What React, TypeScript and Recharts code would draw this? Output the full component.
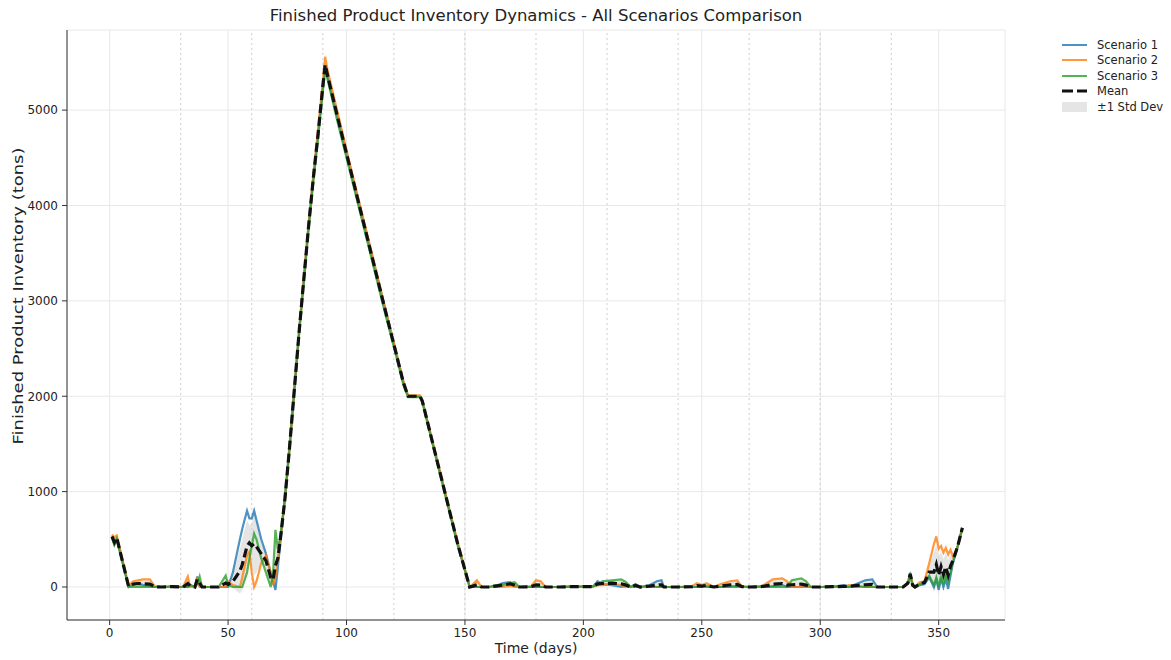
import React from "react";
import {
  ComposedChart,
  Line,
  Area,
  XAxis,
  YAxis,
  CartesianGrid,
  ReferenceLine,
} from "recharts";

const days = [
  1, 2, 3, 8, 10, 12, 14, 17, 19, 22,
  26, 31, 33, 34, 36, 37, 38, 39, 42, 46,
  49, 50, 52, 55, 56, 58, 59, 60, 61, 62,
  64, 66, 68, 69, 70, 71, 72, 74, 76, 78,
  80, 82, 84, 86, 88, 90, 91, 92, 96, 101,
  106, 111, 116, 121, 124, 126, 131, 132, 137, 142,
  147, 152, 153, 155, 157, 160, 163, 166, 169, 171,
  173, 178, 180, 182, 184, 190, 195, 200, 204, 206,
  208, 212, 216, 218, 220, 222, 224, 228, 231, 233,
  234, 240, 246, 248, 250, 252, 255, 258, 262, 265,
  267, 270, 275, 278, 280, 284, 286, 288, 292, 294,
  296, 300, 305, 310, 312, 316, 319, 322, 324, 330,
  335, 337, 338, 339, 340, 342, 344, 346, 348, 349,
  350, 351, 352, 353, 354, 355, 356, 358, 360,
];

const scenario1 = [
  520, 450, 510, 0, 30, 40, 20, 10, 0, 0,
  10, 0, 0, 20, 0, 110, 10, 0, 0, 0,
  0, 0, 150, 500, 610, 800, 720, 720, 800, 700,
  500, 350, 150, 60, -30, 200, 450, 950, 1500, 2100,
  2700, 3250, 3800, 4300, 4750, 5250, 5450, 5350, 4950, 4450,
  3950, 3450, 2950, 2450, 2150, 2000, 2000, 1950, 1450, 950,
  450, 0, 0, 0, 0, 0, 10, 40, 50, 10,
  0, 0, 0, 0, 0, 0, 10, 0, 0, 60,
  30, 20, 0, 10, 0, 30, 0, 20, 60, 70,
  0, 0, 0, 0, 10, 0, 0, 0, 0, 10,
  0, 0, 0, 0, 10, 20, 0, 0, 0, 0,
  0, 0, 0, 20, 0, 40, 70, 80, 0, 0,
  0, 50, 150, 20, 0, 20, 30, 100, 0, 80,
  -30, 90, 0, 80, -20, 120, 250, 420, 620,
];

const scenario2 = [
  550, 520, 540, 20, 60, 70, 80, 80, 10, 0,
  0, 0, 110, 0, 0, 100, 0, 0, 0, 0,
  0, 60, 20, 0, 100, 330, 370, 150, 0, 60,
  250, 330, 150, 20, 100, 300, 480, 900, 1480, 2080,
  2680, 3250, 3800, 4320, 4800, 5300, 5560, 5420, 5000, 4480,
  3970, 3470, 2960, 2460, 2160, 2010, 2010, 1960, 1460, 960,
  460, 0, 20, 70, 0, 0, 0, 0, 10, 0,
  0, 10, 70, 60, 0, 0, 0, 0, 0, 20,
  20, 30, 20, 0, 0, 0, 0, 0, 0, 0,
  0, 0, 10, 40, 20, 40, 0, 30, 60, 70,
  0, 0, 0, 50, 80, 90, 60, 0, 0, 0,
  0, 0, 0, 0, 20, 0, 0, 0, 0, 0,
  0, 30, 140, 30, 0, 50, 60, 250, 450, 530,
  400, 430, 360, 410, 340, 390, 320, 420, 620,
];

const scenario3 = [
  520, 440, 500, 0, 0, 0, 0, 0, 0, 0,
  0, 0, 0, 20, 0, 30, 110, 0, 0, 0,
  120, 20, 0, 0, 0, 150, 300, 430, 560, 500,
  300, 150, 0, 150, 600, 400, 520, 920, 1450, 2050,
  2650, 3200, 3750, 4250, 4700, 5200, 5420, 5320, 4900, 4400,
  3900, 3400, 2900, 2420, 2120, 1990, 1990, 1940, 1430, 930,
  430, 0, 0, 0, 0, 0, 20, 20, 40, 50,
  0, 0, 0, 0, 0, 0, 0, 10, 10, 20,
  60, 70, 80, 50, 0, 20, 0, 10, 0, 0,
  0, 0, 0, 0, 0, 10, 0, 0, 10, 0,
  10, 0, 10, 0, 0, 0, 0, 70, 90, 60,
  0, 0, 10, 0, 0, 10, 0, 0, 0, 0,
  0, 40, 120, 10, 0, 30, 50, 120, 20, 100,
  0, 120, 30, 140, 50, 150, 260, 430, 620,
];

const xTicks = [0, 50, 100, 150, 200, 250, 300, 350];
const yTicks = [0, 1000, 2000, 3000, 4000, 5000];
const monthLines = [30, 60, 90, 120, 150, 180, 210, 240, 270, 300, 330];

const seriesNames = ["Scenario 1", "Scenario 2", "Scenario 3"];
const seriesColors = ["#1f77b4", "#ff7f0e", "#2ca02c"];

const data = days.map((d, i) => {
  const vals = [scenario1[i], scenario2[i], scenario3[i]];
  const mean = (vals[0] + vals[1] + vals[2]) / 3;
  const variance =
    vals.reduce((acc, v) => acc + (v - mean) * (v - mean), 0) / vals.length;
  const sd = Math.sqrt(variance);
  return {
    day: d,
    s1: vals[0],
    s2: vals[1],
    s3: vals[2],
    mean,
    band: [mean - sd, mean + sd],
  };
});

const FONT = "'DejaVu Sans', sans-serif";

function LegendBox() {
  const rowStyle: React.CSSProperties = {
    display: "flex",
    alignItems: "center",
    height: 15.5,
  };
  const textStyle: React.CSSProperties = {
    fontFamily: FONT,
    fontSize: 11.5,
    color: "#222",
    marginLeft: 10,
    whiteSpace: "nowrap",
  };
  return (
    <div style={{ position: "absolute", left: 1062, top: 37 }}>
      {seriesNames.map((n, i) => (
        <div key={n} style={rowStyle}>
          <svg width={25} height={10}>
            <line x1={0} y1={5} x2={25} y2={5} stroke={seriesColors[i]} strokeOpacity={0.8} strokeWidth={2} />
          </svg>
          <span style={textStyle}>{n}</span>
        </div>
      ))}
      <div style={rowStyle}>
        <svg width={25} height={10}>
          <line x1={0} y1={5} x2={25} y2={5} stroke="#111" strokeWidth={3.2} strokeDasharray="11 4" />
        </svg>
        <span style={textStyle}>Mean</span>
      </div>
      <div style={rowStyle}>
        <svg width={25} height={10}>
          <rect x={0} y={0} width={25} height={10} fill="#999" fillOpacity={0.25} />
        </svg>
        <span style={textStyle}>±1 Std Dev</span>
      </div>
    </div>
  );
}

export default function App() {
  return (
    <div
      style={{
        position: "absolute",
        left: 0,
        top: 0,
        width: 1171,
        height: 660,
        background: "#fff",
        fontFamily: FONT,
      }}
    >
      <div
        style={{
          position: "absolute",
          left: 67,
          width: 938,
          top: 6,
          textAlign: "center",
          fontSize: 16.5,
          color: "#222",
          fontFamily: FONT,
        }}
      >
        Finished Product Inventory Dynamics - All Scenarios Comparison
      </div>
      <div
        style={{
          position: "absolute",
          left: 67,
          width: 938,
          top: 640,
          textAlign: "center",
          fontSize: 14,
          color: "#222",
          fontFamily: FONT,
        }}
      >
        Time (days)
      </div>
      <div
        style={{
          position: "absolute",
          left: 18,
          top: 296,
          transform: "translate(-50%, -50%) rotate(-90deg) scaleX(1.28)",
          fontSize: 14,
          color: "#222",
          whiteSpace: "nowrap",
          fontFamily: FONT,
        }}
      >
        Finished Product Inventory (tons)
      </div>
      <ComposedChart
        width={1171}
        height={660}
        data={data}
        margin={{ top: 30, right: 166, bottom: 0, left: 7 }}
      >
        <CartesianGrid stroke="#e8e8e8" strokeWidth={1} />
        {monthLines.map((m) => (
          <ReferenceLine
            key={m}
            x={m}
            stroke="#cfcfcf"
            strokeWidth={1}
            strokeDasharray="2 3"
          />
        ))}
        <XAxis
          dataKey="day"
          type="number"
          domain={[-18, 378]}
          ticks={xTicks}
          allowDataOverflow
          height={40}
          tickSize={5}
          tickMargin={3}
          stroke="#333"
          tick={{ fontSize: 12, fill: "#222", fontFamily: FONT }}
        />
        <YAxis
          type="number"
          domain={[-346, 5840]}
          ticks={yTicks}
          allowDataOverflow
          width={60}
          tickSize={5}
          tickMargin={4}
          stroke="#333"
          tick={{ fontSize: 12, fill: "#222", fontFamily: FONT }}
        />
        <Area
          dataKey="band"
          type="linear"
          stroke="none"
          fill="#999"
          fillOpacity={0.25}
          isAnimationActive={false}
          activeDot={false}
        />
        <Line dataKey="s1" type="linear" stroke={seriesColors[0]} strokeOpacity={0.8} strokeWidth={2.2} dot={false} isAnimationActive={false} />
        <Line dataKey="s2" type="linear" stroke={seriesColors[1]} strokeOpacity={0.8} strokeWidth={2.2} dot={false} isAnimationActive={false} />
        <Line dataKey="s3" type="linear" stroke={seriesColors[2]} strokeOpacity={0.8} strokeWidth={2.2} dot={false} isAnimationActive={false} />
        <Line dataKey="mean" type="linear" stroke="#111" strokeWidth={3.2} strokeDasharray="9 4" dot={false} isAnimationActive={false} />
      </ComposedChart>
      <LegendBox />
    </div>
  );
}
